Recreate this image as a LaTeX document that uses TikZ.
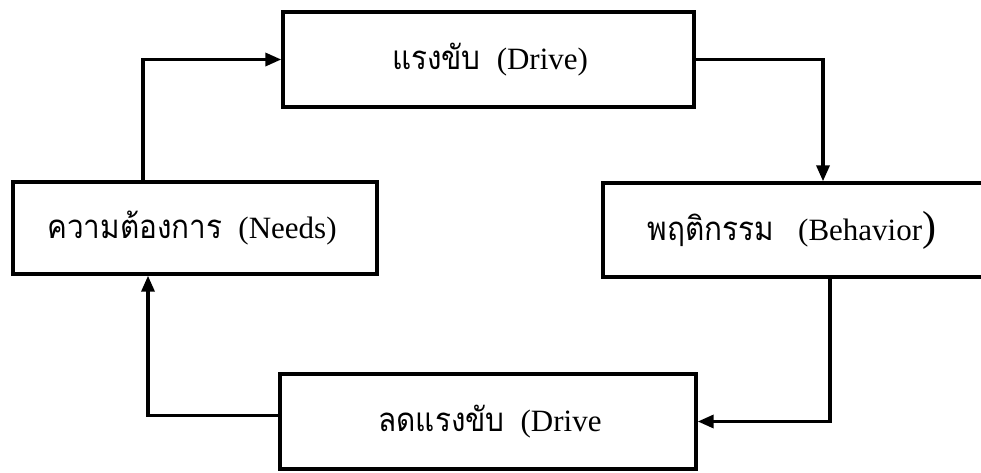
\documentclass[tikz,border=0pt]{standalone}
\usepackage{fontspec}
\setmainfont{Liberation Serif}
\newfontfamily\thaifont[Script=Thai,FakeStretch=0.9]{Loma}
\usetikzlibrary{arrows.meta}
\newcommand{\thaitxt}[1]{{\fontsize{33}{38}\thaifont #1}}
\newcommand{\txtgap}{\hspace{16pt}}
\tikzset{
  box/.style={draw, line width=3.4pt, rectangle, inner sep=0pt},
  txt/.style={inner sep=0pt, font=\fontsize{31}{36}\selectfont},
  arr/.style={line width=3.4pt, -{Triangle[length=16pt,width=13pt]}},
}
\begin{document}
\begin{tikzpicture}[x=1pt,y=-1pt]
\clip (0,0) rectangle (981,472);
\fill[white] (0,0) rectangle (981,472);
% boxes
\node[box, minimum width=411pt, minimum height=95pt] (drive) at (488.5,59.5) {};
\node[box, minimum width=364pt, minimum height=92pt] (needs) at (195,228) {};
\node[box, minimum width=400pt, minimum height=94pt] (beh) at (803,230) {};
\node[box, minimum width=416pt, minimum height=95pt] (red) at (488,421.5) {};
% texts
\node[txt] (drivetxt) at (490,60) {\thaitxt{แรงขับ}\txtgap(Drive)};
\node[txt] (needstxt) at (192,228) {\thaitxt{ความต้องการ}\txtgap(Needs)};
\node[txt] (behtxt) at (792,230) {\thaitxt{พฤติกรรม}\hspace{24pt}(Behavior{\fontsize{42}{42}\selectfont )}};
\node[txt] (redtxt) at (490,421.5) {\thaitxt{ลดแรงขับ}\txtgap(Drive};
% connector helpers
\coordinate (c1) at (143,0);
\coordinate (c2) at (823,0);
\coordinate (c3) at (830,0);
\coordinate (c4) at (148,0);
% connectors
\draw[arr] (needs.north -| c1) |- (drive.west);
\draw[arr] (drive.east) -| (beh.north -| c2);
\draw[arr] (beh.south -| c3) |- (red.east);
\draw[arr] ([yshift=6pt]red.west) -| (needs.south -| c4);
\end{tikzpicture}
\end{document}
